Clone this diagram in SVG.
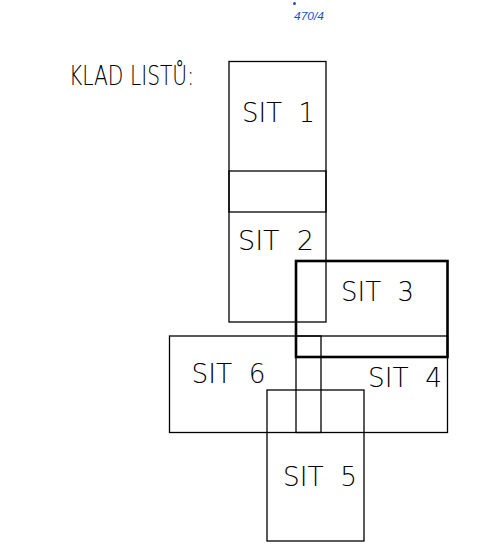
<svg xmlns="http://www.w3.org/2000/svg" width="477" height="553" viewBox="0 0 477 553">
<style>
.box{fill:none;stroke:#000;stroke-width:1.3}
.thick{fill:none;stroke:#000;stroke-width:2.6}
.lbl{font-family:"DejaVu Sans","Liberation Sans",sans-serif;font-weight:200;font-size:27px;fill:#000;white-space:pre}
</style>
<rect width="477" height="553" fill="#fff"/>
<g id="ref">
<circle cx="294.5" cy="3.5" r="1.5" fill="#2050c8"/>
<text x="294" y="20" font-family="Liberation Sans, sans-serif" font-size="10" font-style="italic" fill="#2050c8" textLength="30" lengthAdjust="spacingAndGlyphs">470/4</text>
</g>
<g id="title">
<text class="lbl" x="69" y="85" textLength="125" lengthAdjust="spacingAndGlyphs">KLAD LISTŮ:</text>
</g>
<g id="sit1">
<rect class="box" x="229" y="61.5" width="97" height="150.5"/>
<text class="lbl" x="242" y="122" textLength="73" lengthAdjust="spacingAndGlyphs" xml:space="preserve">SIT  1</text>
</g>
<g id="sit2">
<rect class="box" x="229" y="171" width="97" height="151"/>
<text class="lbl" x="238" y="249.5" textLength="76" lengthAdjust="spacingAndGlyphs" xml:space="preserve">SIT  2</text>
</g>
<g id="sit3">
<rect class="thick" x="296" y="261" width="151.5" height="96"/>
<text class="lbl" x="341" y="301" textLength="73" lengthAdjust="spacingAndGlyphs" xml:space="preserve">SIT  3</text>
</g>
<g id="sit6">
<rect class="box" x="169.5" y="336" width="151.5" height="96.5"/>
<text class="lbl" x="191.5" y="383" textLength="74" lengthAdjust="spacingAndGlyphs" xml:space="preserve">SIT  6</text>
</g>
<g id="sit4">
<rect class="box" x="296" y="336" width="151.5" height="96.5"/>
<text class="lbl" x="368" y="387" textLength="74" lengthAdjust="spacingAndGlyphs" xml:space="preserve">SIT  4</text>
</g>
<g id="sit5">
<rect class="box" x="267" y="390" width="97" height="151"/>
<text class="lbl" x="283" y="486" textLength="74" lengthAdjust="spacingAndGlyphs" xml:space="preserve">SIT  5</text>
</g>
<g id="connectors"></g>
</svg>
